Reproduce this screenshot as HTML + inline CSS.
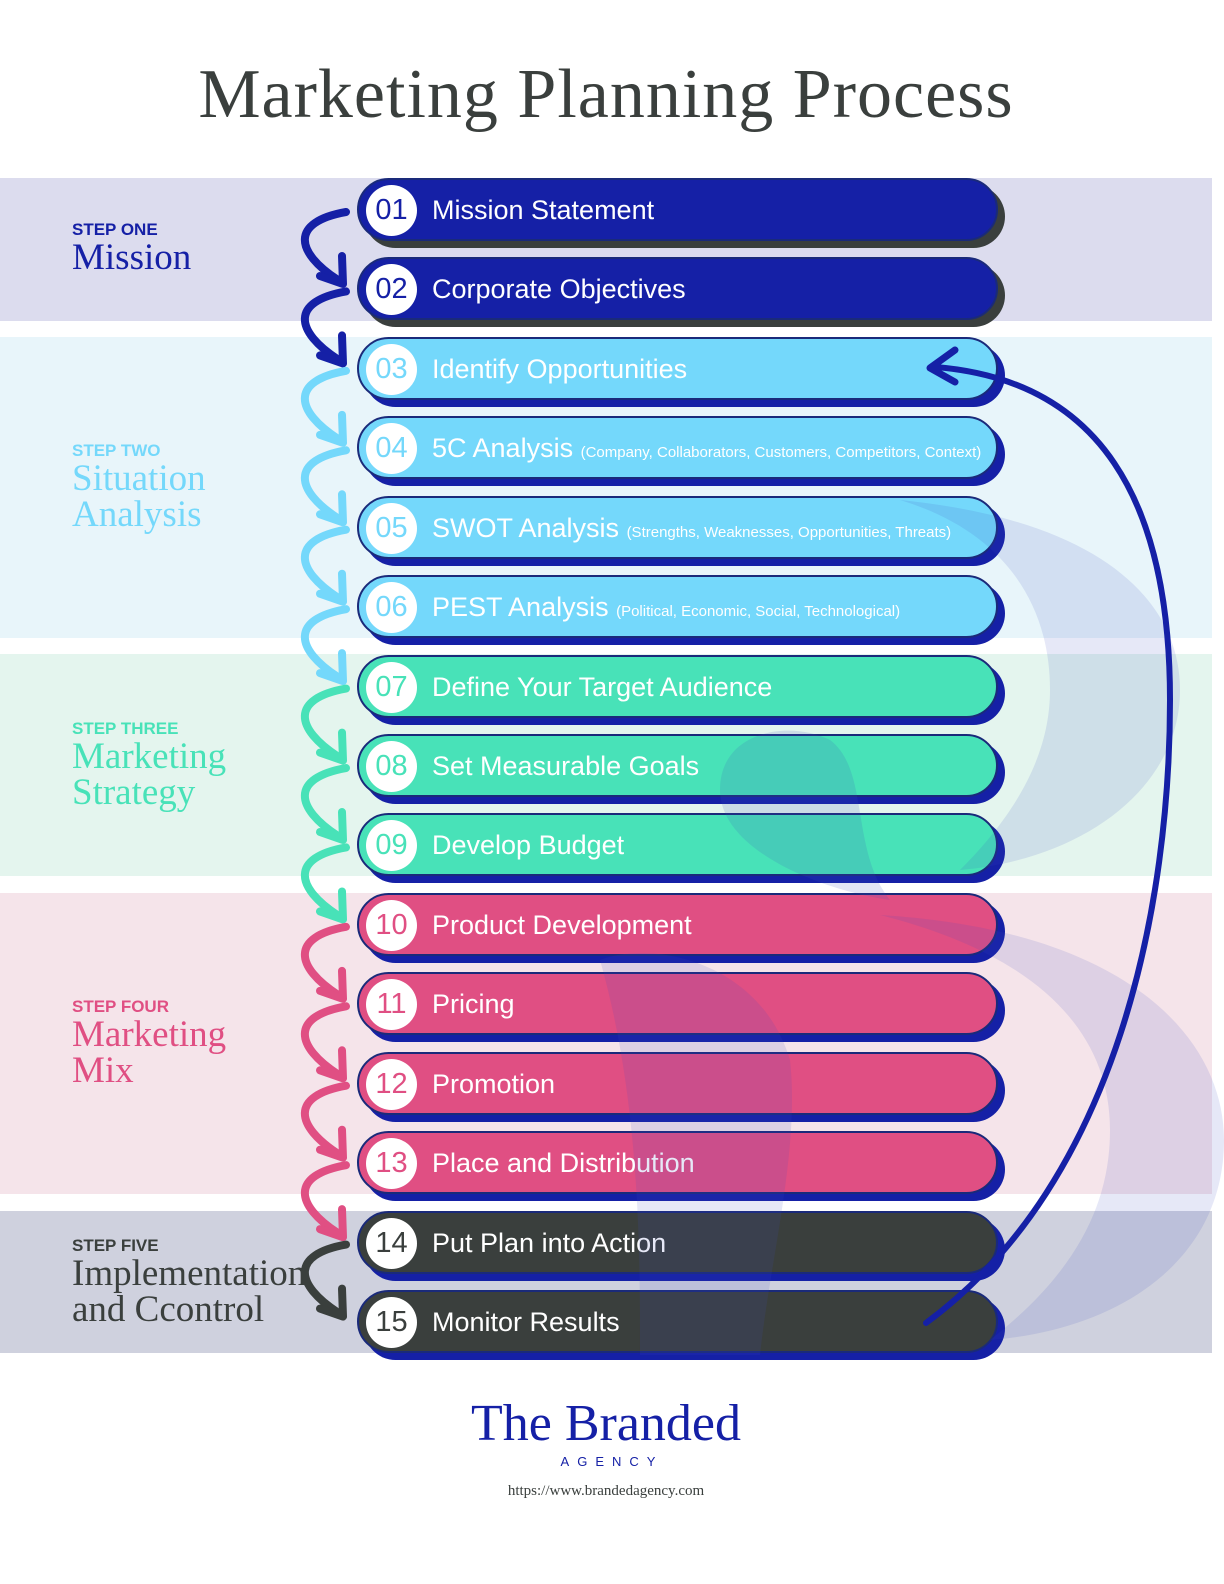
<!DOCTYPE html>
<html><head><meta charset="utf-8"><style>
*{margin:0;padding:0;box-sizing:border-box}
body{width:1224px;height:1584px;background:#fff;position:relative;overflow:hidden;font-family:"Liberation Sans",sans-serif}
.band{position:absolute;left:0;width:1212px}
.title{position:absolute;top:55px;left:0;width:1212px;text-align:center;font-family:"Liberation Serif",serif;font-size:70px;color:#3a3f3d;letter-spacing:1px}
.pill{position:absolute;left:357px;width:641px;height:63px;border-radius:32px;border:2px solid #1a2a7a}
.sh{position:absolute;left:364px;width:641px;height:63px;border-radius:32px}
.circ{position:absolute;left:7px;top:5px;width:51px;height:51px;border-radius:50%;background:#fff;text-align:center;line-height:51px;font-size:29px;font-family:"Liberation Sans",sans-serif}
.txt{position:absolute;left:73px;top:0;line-height:60px;font-size:27px;color:#fff;white-space:nowrap}
.txt small{font-size:15px}
.sl{position:absolute;left:72px}
.sl b{display:block;font-size:17px;font-weight:bold}
.sl span{display:block;font-family:"Liberation Serif",serif;font-size:37px;line-height:36px}
</style></head><body>
<div class="title">Marketing Planning Process</div>
<div class="band" style="top:178px;height:143px;background:#dcdcee"></div>
<div class="band" style="top:337px;height:301px;background:#e8f5fa"></div>
<div class="band" style="top:654px;height:222px;background:#e4f5ee"></div>
<div class="band" style="top:893px;height:301px;background:#f5e4ea"></div>
<div class="band" style="top:1211px;height:142px;background:#cfd1de"></div>

<div class="sl" style="top:220px;color:#1520a6"><b>STEP ONE</b><span>Mission</span></div>
<div class="sl" style="top:441px;color:#74d8fb"><b>STEP TWO</b><span>Situation<br>Analysis</span></div>
<div class="sl" style="top:719px;color:#48e2b8"><b>STEP THREE</b><span>Marketing<br>Strategy</span></div>
<div class="sl" style="top:997px;color:#e04f83"><b>STEP FOUR</b><span>Marketing<br>Mix</span></div>
<div class="sl" style="top:1236px;color:#3a3f3d"><b>STEP FIVE</b><span>Implementation<br>and Ccontrol</span></div>

<div id="pills"></div>
<script>
var d=[["01","Mission Statement","#1520a6","#3a3f3d"],["02","Corporate Objectives","#1520a6","#3a3f3d"],
["03","Identify Opportunities","#74d8fb","#1520a6"],["04","5C Analysis <small>(Company, Collaborators, Customers, Competitors, Context)</small>","#74d8fb","#1520a6"],
["05","SWOT Analysis <small>(Strengths, Weaknesses, Opportunities, Threats)</small>","#74d8fb","#1520a6"],["06","PEST Analysis <small>(Political, Economic, Social, Technological)</small>","#74d8fb","#1520a6"],
["07","Define Your Target Audience","#48e2b8","#1520a6"],["08","Set Measurable Goals","#48e2b8","#1520a6"],["09","Develop Budget","#48e2b8","#1520a6"],
["10","Product Development","#e04f83","#1520a6"],["11","Pricing","#e04f83","#1520a6"],["12","Promotion","#e04f83","#1520a6"],["13","Place and Distribution","#e04f83","#1520a6"],
["14","Put Plan into Action","#3a3f3d","#1520a6"],["15","Monitor Results","#3a3f3d","#1520a6"]];
var h="";for(var i=0;i<15;i++){var t=178+i*79.43;
h+='<div class="sh" style="top:'+(t+7)+'px;background:'+d[i][3]+'"></div>';
h+='<div class="pill" style="top:'+t+'px;background:'+d[i][2]+'"><div class="circ" style="color:'+d[i][2]+'">'+d[i][0]+'</div><div class="txt">'+d[i][1]+'</div></div>';}
document.getElementById("pills").innerHTML=h;
var s='<svg width="1224" height="1584" style="position:absolute;left:0;top:0">';
s+='<path d="M900 500 C1100 520 1180 600 1180 690 C1180 790 1080 860 960 870 C1030 800 1050 740 1050 690 C1050 600 1000 530 900 500Z" fill="rgba(60,80,190,0.13)"/>';
s+='<path d="M880 915 C1130 930 1224 1040 1224 1140 C1224 1260 1120 1330 990 1340 C1080 1270 1110 1200 1110 1130 C1110 1020 1020 950 880 915Z" fill="rgba(60,80,190,0.13)"/>';
s+='<path d="M720 790 C720 730 790 720 830 740 C870 770 850 850 890 900 C820 890 720 850 720 790Z" fill="rgba(60,80,190,0.15)"/>';
s+='<path d="M600 960 C650 940 760 960 790 1060 C800 1150 770 1260 760 1355 L640 1355 C640 1250 640 1100 600 960Z" fill="rgba(60,80,190,0.13)"/>';
var cols=["#1520a6","#1520a6","#74d8fb","#74d8fb","#74d8fb","#74d8fb","#48e2b8","#48e2b8","#48e2b8","#e04f83","#e04f83","#e04f83","#e04f83","#3a3f3d"];
for(var i=0;i<14;i++){var y=212+i*79.43;var c=cols[i];
s+='<path d="M346 '+y+' C290 '+(y+10)+' 295 '+(y+40)+' 338 '+(y+68)+'" fill="none" stroke="'+c+'" stroke-width="8" stroke-linecap="round"/>';
var ty=y+72;s+='<path d="M320 '+(ty-8)+' L343 '+ty+' L342 '+(ty-28)+'" fill="none" stroke="'+c+'" stroke-width="8" stroke-linecap="round" stroke-linejoin="round"/>';}
s+='<path d="M926 1323 C1120 1180 1170 900 1170 700 C1170 500 1100 380 935 367" fill="none" stroke="#1520a6" stroke-width="6" stroke-linecap="round"/>';
s+='<path d="M955 350 L930 368 L955 382" fill="none" stroke="#1520a6" stroke-width="7" stroke-linecap="round" stroke-linejoin="round"/>';
s+='</svg>';document.write(s);
</script>
<div style="position:absolute;top:1394px;left:0;width:1212px;text-align:center;font-family:'Liberation Serif',serif;font-size:52px;color:#1520a6">The Branded</div>
<div style="position:absolute;top:1454px;left:6px;width:1212px;text-align:center;font-size:13px;letter-spacing:8px;color:#1520a6">AGENCY</div>
<div style="position:absolute;top:1483px;left:0;width:1212px;text-align:center;font-family:'Liberation Serif',serif;font-size:15px;color:#3a3f3d">https://www.brandedagency.com</div>
</body></html>
